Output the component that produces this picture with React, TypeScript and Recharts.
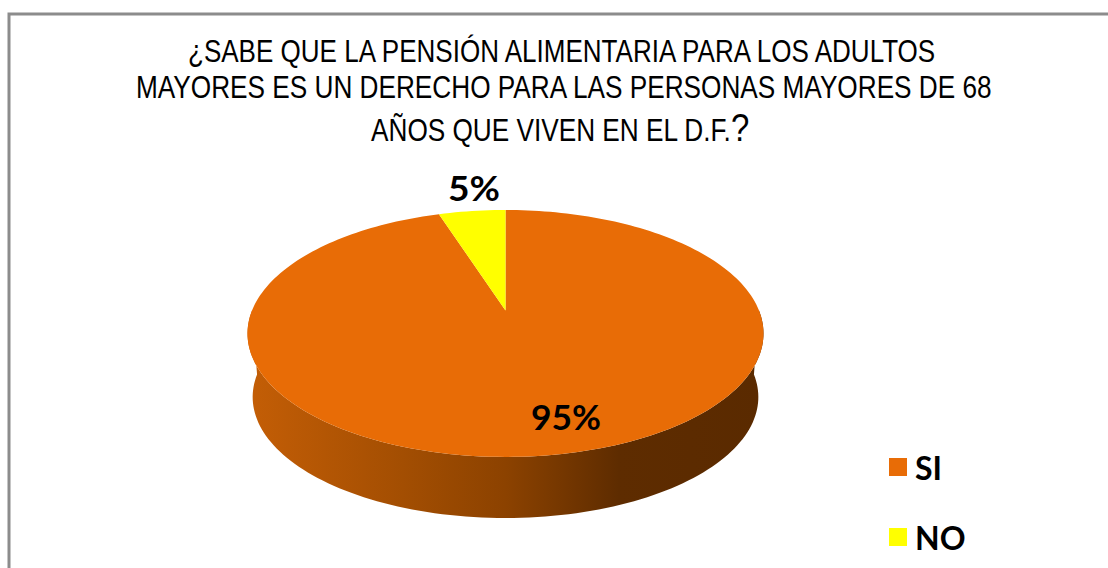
import React from "react";
import { PieChart, Pie, Legend } from "recharts";

const categories = ["SI", "NO"];
const values = [95, 5];
const titleLines = [
  "¿SABE QUE LA PENSIÓN ALIMENTARIA PARA LOS ADULTOS",
  "MAYORES ES UN DERECHO PARA LAS PERSONAS MAYORES DE 68",
  "AÑOS QUE VIVEN EN EL D.F.",
];
const titleMark = "?";

const sliceColors = ["#E86C06", "#FFFF00"];
const rows = categories.map((name, i) => ({ name, value: values[i], fill: sliceColors[i] }));

// Perspective of the tilted disc: the library's angles and radius are projected onto it.
const PERSPECTIVE = -0.186;
const FLATTEN = 0.4702;
const WALL_DEPTH = 64;
const WALL_SHRINK = 0.98;
const RAD = Math.PI / 180;

function project(cx: number, cy: number, r: number, deg: number) {
  const u = Math.cos(deg * RAD);
  const v = -Math.sin(deg * RAD);
  const d = 1 + PERSPECTIVE * v;
  return { x: cx + (r * u) / d, y: cy + (FLATTEN * r * v) / d };
}

function arcPoints(cx: number, cy: number, r: number, from: number, to: number, dy = 0) {
  const steps = Math.max(2, Math.ceil(Math.abs(to - from) / 1.5));
  const pts: string[] = [];
  for (let i = 0; i <= steps; i++) {
    const p = project(cx, cy, r, from + ((to - from) * i) / steps);
    pts.push(`${p.x.toFixed(2)},${(p.y + dy).toFixed(2)}`);
  }
  return pts;
}

function Slice3D(props: any) {
  const { cx, cy, outerRadius, startAngle, endAngle, fill } = props;
  // The front of the disc runs from 0 to -180 degrees in the library's clockwise sweep.
  const from = Math.min(startAngle, 0);
  const to = Math.max(endAngle, -180);
  const hasWall = from > to;
  const face = ["M", `${cx},${cy}`, "L", ...arcPoints(cx, cy, outerRadius, startAngle, endAngle), "Z"].join(" ");
  let wall = "";
  if (hasWall) {
    const top = arcPoints(cx, cy, outerRadius, from, to);
    const bottom = arcPoints(cx, cy, outerRadius * WALL_SHRINK, to, from, WALL_DEPTH);
    wall = `M ${top.join(" L ")} L ${bottom.join(" L ")} Z`;
  }
  return (
    <g>
      {hasWall && <path d={wall} fill="url(#pieWall)" />}
      <path d={face} fill={fill} />
    </g>
  );
}

const labelNudges: Record<string, [number, number]> = { SI: [12, -38], NO: [2, -24] };
const labelWidths: Record<string, number> = { SI: 70, NO: 52 };

function PercentLabel(props: any) {
  const { cx, cy, outerRadius, midAngle, name, value } = props;
  const p = project(cx, cy, outerRadius, midAngle);
  const [dx, dy] = labelNudges[name];
  return (
    <text
      x={p.x + dx}
      y={p.y + dy}
      textAnchor="middle"
      dominantBaseline="central"
      fontFamily="Lato, sans-serif"
      fontSize={34}
      fontWeight={700}
      fill="#000"
      textLength={labelWidths[name]}
      lengthAdjust="spacingAndGlyphs"
    >
      {`${value}%`}
    </text>
  );
}

function LegendBox(props: any) {
  return (
    <div>
      {(props.payload || []).map((entry: any) => (
        <div key={entry.value} style={{ display: "flex", alignItems: "center", height: 70 }}>
          <span style={{ display: "block", width: 18, height: 18, background: entry.color, marginRight: 8 }} />
          <span style={{ fontFamily: "Lato, sans-serif", fontWeight: 700, fontSize: 32, color: "#000" }}>
            {entry.value}
          </span>
        </div>
      ))}
    </div>
  );
}

const titleFont = { fontFamily: "'Liberation Sans', Arial, sans-serif", fill: "#000", fontSize: 31 };

export default function App() {
  return (
    <div style={{ position: "absolute", left: 0, top: 0, width: 1108, height: 568, overflow: "hidden", background: "#fff" }}>
      <PieChart width={1108} height={568} margin={{ top: 0, right: 0, bottom: 0, left: 0 }}>
        <defs>
          <linearGradient id="pieWall" x1="0" y1="0" x2="1" y2="0">
            <stop offset="0%" stopColor="#C45E06" />
            <stop offset="30%" stopColor="#A34E02" />
            <stop offset="50%" stopColor="#8C4200" />
            <stop offset="72%" stopColor="#5E2C00" />
            <stop offset="100%" stopColor="#5A2A00" />
          </linearGradient>
        </defs>
        <rect x={9} y={14} width={1300} height={800} fill="#fff" stroke="#8C8C8C" strokeWidth={3} />
        <text transform="translate(188 62) scale(0.84 1)" {...titleFont}>
          {titleLines[0]}
        </text>
        <text transform="translate(136 98) scale(0.845 1)" {...titleFont}>
          {titleLines[1]}
        </text>
        <text transform="translate(371 141) scale(0.845 1)" {...titleFont}>
          {titleLines[2]}
          <tspan fontSize={39}>{titleMark}</tspan>
        </text>
        <Pie
          data={rows}
          dataKey="value"
          nameKey="name"
          cx={505.5}
          cy={310.5}
          innerRadius={0}
          outerRadius={253.5}
          startAngle={90}
          endAngle={-270}
          stroke="none"
          isAnimationActive={false}
          labelLine={false}
          label={PercentLabel}
          shape={Slice3D}
        />
        <Legend
          layout="vertical"
          content={LegendBox}
          itemSorter={null}
          wrapperStyle={{ position: "absolute", left: 889, top: 432, width: 150, bottom: "auto", right: "auto" }}
        />
      </PieChart>
    </div>
  );
}
